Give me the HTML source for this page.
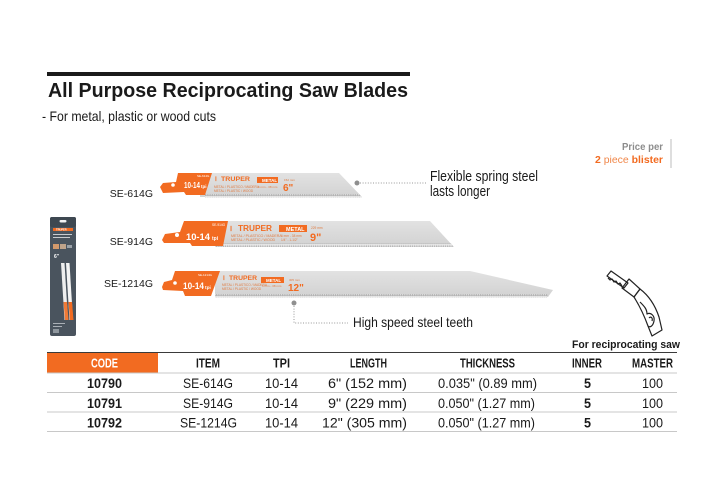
<!DOCTYPE html>
<html><head><meta charset="utf-8"><style>
html,body{margin:0;padding:0;background:#fff;}
svg{display:block;}
text{font-family:"Liberation Sans",Arial,sans-serif;}
</style></head><body>
<svg width="720" height="504" viewBox="0 0 720 504" xmlns="http://www.w3.org/2000/svg">
<defs>
<pattern id="teeth" width="2.2" height="4" patternUnits="userSpaceOnUse">
<rect width="2.2" height="4" fill="#e6e6e6"/>
<path d="M0,4 L1.1,0.5 L2.2,4 Z" fill="#b4b4b4"/>
</pattern>
<linearGradient id="bl" x1="0" y1="0" x2="0" y2="1">
<stop offset="0" stop-color="#e2e2e2"/><stop offset="1" stop-color="#d2d2d2"/>
</linearGradient>
</defs>
<rect width="720" height="504" fill="#fff"/>

<!-- header -->
<rect x="47" y="72" width="363" height="4" fill="#1a1a1a"/>
<text x="48" y="97" font-size="20" font-weight="bold" fill="#1a1a1a" textLength="360" lengthAdjust="spacingAndGlyphs">All Purpose Reciprocating Saw Blades</text>
<text x="42" y="121" font-size="14" fill="#1a1a1a" textLength="174" lengthAdjust="spacingAndGlyphs">- For metal, plastic or wood cuts</text>

<!-- price per -->
<text x="622" y="150" font-size="10.5" font-weight="bold" fill="#8c8c8c" textLength="41" lengthAdjust="spacingAndGlyphs">Price per</text>
<text x="595" y="163" font-size="10.5" font-weight="bold" fill="#f26b21" textLength="68" lengthAdjust="spacingAndGlyphs">2 <tspan font-weight="normal" fill="#f0874a">piece</tspan> blister</text>
<line x1="671" y1="139" x2="671" y2="168" stroke="#bdbdbd" stroke-width="1"/>

<!-- labels -->
<text x="153" y="197" font-size="10.5" fill="#1a1a1a" text-anchor="end">SE-614G</text>
<text x="153" y="245" font-size="10.5" fill="#1a1a1a" text-anchor="end">SE-914G</text>
<text x="153" y="287" font-size="10.5" fill="#1a1a1a" text-anchor="end">SE-1214G</text>

<!-- blade 1 -->
<polygon points="200,173 339,173 362,197 200,197" fill="url(#bl)"/>
<polygon points="205,194 359,194 362,197.5 205,197.5" fill="url(#teeth)"/>
<path d="M160,187 L163,183 L176,182 L178,173 L212,173 L205,195 L186,195 L184,192 L163,193 Z" fill="#f26b21"/>
<circle cx="173" cy="185" r="1.8" fill="#fff"/>
<text x="184" y="188" font-size="8" font-weight="bold" fill="#fff" textLength="16" lengthAdjust="spacingAndGlyphs">10-14</text>
<text x="201" y="188" font-size="4.5" font-weight="bold" fill="#fff">tpi</text>
<text x="197" y="177" font-size="3" fill="#fff">SE-614G</text>
<text x="215" y="181" font-size="6" font-weight="bold" fill="#f26b21">Ⅰ</text>
<text x="221" y="181" font-size="6.5" font-weight="bold" fill="#f26b21" textLength="29" lengthAdjust="spacingAndGlyphs">TRUPER</text>
<rect x="257" y="177" width="21" height="6" fill="#f26b21"/>
<text x="262" y="182" font-size="4.5" font-weight="bold" fill="#fff">METAL</text>
<text x="214" y="188" font-size="3.2" fill="#e07a40">METAL / PLASTICO / MADERA</text>
<text x="214" y="192" font-size="3.2" fill="#e07a40">METAL / PLASTIC / WOOD</text>
<text x="258" y="188" font-size="3" fill="#e07a40">6 mm - 38 mm</text>
<text x="283" y="191" font-size="10" font-weight="bold" fill="#f26b21">6"</text>
<text x="284" y="181" font-size="3" fill="#e07a40">152 mm</text>

<!-- blade 2 -->
<polygon points="210,221 430,221 453,246 210,246" fill="url(#bl)"/>
<polygon points="215,243.5 451,243.5 454,247 215,247" fill="url(#teeth)"/>
<path d="M162,240 L165,234 L180,232 L184,221 L228,221 L223,246 L192,246 L190,243 L164,243 Z" fill="#f26b21"/>
<circle cx="177" cy="235" r="2" fill="#fff"/>
<text x="186" y="240" font-size="9.5" font-weight="bold" fill="#fff" textLength="24" lengthAdjust="spacingAndGlyphs">10-14</text>
<text x="212" y="240" font-size="5" font-weight="bold" fill="#fff">tpi</text>
<text x="212" y="226" font-size="3.2" fill="#fff">SE-914G</text>
<text x="230" y="231" font-size="7" font-weight="bold" fill="#f26b21">Ⅰ</text>
<text x="238" y="231" font-size="8" font-weight="bold" fill="#f26b21" textLength="34" lengthAdjust="spacingAndGlyphs">TRUPER</text>
<rect x="279" y="225" width="28" height="7" fill="#f26b21"/>
<text x="286" y="231" font-size="5.5" font-weight="bold" fill="#fff">METAL</text>
<text x="231" y="237" font-size="3.6" fill="#e07a40">METAL / PLASTICO / MADERA</text>
<text x="231" y="241" font-size="3.6" fill="#e07a40">METAL / PLASTIC / WOOD</text>
<text x="281" y="237" font-size="3.2" fill="#e07a40">6 mm - 38 mm</text>
<text x="281" y="241" font-size="3.2" fill="#e07a40">1/4" - 1-1/2"</text>
<text x="310" y="241" font-size="11" font-weight="bold" fill="#f26b21">9"</text>
<text x="311" y="229" font-size="3.2" fill="#e07a40">229 mm</text>

<!-- blade 3 -->
<polygon points="215,271 470,271 553,290 548,297 215,297" fill="url(#bl)"/>
<polygon points="215,294 548,294 547,297.5 215,297.5" fill="url(#teeth)"/>
<path d="M162,287 L164,282 L172,280 L175,271 L220,271 L211,296 L185,296 L183,291 L163,290 Z" fill="#f26b21"/>
<circle cx="175" cy="283" r="1.8" fill="#fff"/>
<text x="183" y="289" font-size="9" font-weight="bold" fill="#fff" textLength="21" lengthAdjust="spacingAndGlyphs">10-14</text>
<text x="205" y="289" font-size="4.8" font-weight="bold" fill="#fff">tpi</text>
<text x="198" y="276" font-size="3" fill="#fff">SE-1214G</text>
<text x="223" y="280" font-size="6" font-weight="bold" fill="#f26b21">Ⅰ</text>
<text x="229" y="280" font-size="6.5" font-weight="bold" fill="#f26b21" textLength="28" lengthAdjust="spacingAndGlyphs">TRUPER</text>
<rect x="261" y="277" width="23" height="6" fill="#f26b21"/>
<text x="266" y="282" font-size="4.5" font-weight="bold" fill="#fff">METAL</text>
<text x="222" y="286" font-size="3.2" fill="#e07a40">METAL / PLASTICO / MADERA</text>
<text x="222" y="290" font-size="3.2" fill="#e07a40">METAL / PLASTIC / WOOD</text>
<text x="262" y="287" font-size="3" fill="#e07a40">6 mm - 38 mm</text>
<text x="288" y="291" font-size="10" font-weight="bold" fill="#f26b21">12"</text>
<text x="289" y="281" font-size="3" fill="#e07a40">305 mm</text>

<!-- callout 1 -->
<circle cx="357" cy="183" r="2.5" fill="#8f8f8f"/>
<line x1="360" y1="183" x2="426" y2="183" stroke="#999" stroke-width="1" stroke-dasharray="1,1.6"/>
<text x="430" y="181" font-size="14.5" fill="#1a1a1a" textLength="108" lengthAdjust="spacingAndGlyphs">Flexible spring steel</text>
<text x="430" y="196" font-size="14.5" fill="#1a1a1a" textLength="60" lengthAdjust="spacingAndGlyphs">lasts longer</text>

<!-- callout 2 -->
<circle cx="294" cy="303" r="2.5" fill="#8f8f8f"/>
<path d="M294,306 L294,323 L348,323" fill="none" stroke="#999" stroke-width="1" stroke-dasharray="1,1.6"/>
<text x="353" y="327" font-size="14" fill="#1a1a1a" textLength="120" lengthAdjust="spacingAndGlyphs">High speed steel teeth</text>

<!-- blister package -->
<rect x="50" y="217" width="26" height="119" rx="2" fill="#4a545e"/>
<rect x="50" y="217" width="26" height="10" rx="2" fill="#3e4851"/>
<rect x="59.5" y="220" width="7" height="2.5" rx="1.2" fill="#f4f4f4"/>
<rect x="53" y="228" width="20" height="3" fill="#f26b21"/>
<text x="56" y="230.6" font-size="2.6" font-weight="bold" fill="#fff">TRUPER</text>
<rect x="53" y="234" width="19" height="1" fill="#c9ccd0"/>
<rect x="53" y="237" width="17" height="1" fill="#c9ccd0"/>
<rect x="53" y="244" width="6" height="5" fill="#d39a6c"/>
<rect x="60" y="244" width="6" height="5" fill="#bfa38a"/>
<rect x="67" y="245" width="5" height="3" fill="#9aa1a8"/>
<text x="54" y="258" font-size="5" font-weight="bold" fill="#fff">6"</text>
<polygon points="61,263 64.5,263 68,320 64.5,320" fill="#eeeeee"/>
<polygon points="66,263 69.5,263 73,320 69.5,320" fill="#f4f4f4"/>
<polygon points="63.5,302 67,302 68.5,320 65,320" fill="#f07a36"/>
<polygon points="68.5,302 72,302 73.5,320 70,320" fill="#f26b21"/>
<rect x="53" y="323" width="12" height="1" fill="#aab0b6"/>
<rect x="53" y="326" width="9" height="1" fill="#aab0b6"/>
<rect x="53" y="329" width="6" height="4" fill="#8f979e"/>

<!-- saw icon -->
<g fill="none" stroke="#222" stroke-width="1.2" stroke-linejoin="round">
<path d="M607,276 L611,271 L628,283 L624,288 Z"/>
<path d="M608,278 L610,280 L612,279 L614,282 L616,281 L618,284 L620,283 L622,286"/>
<path d="M622,288 L629,279 L640,289 L634,297 Z"/>
<path d="M634,297 L640,289 C648,295 655,305 659,317 L662,330 L652,336 L648,326 C644,315 639,305 634,297 Z"/>
<path d="M640,302 C644,306 647,309 647,314 C651,312 655,316 654,321 C653,326 650,328 648,326"/>
<path d="M649,318 C651,316 653,318 652,321"/>
</g>
<text x="572" y="348" font-size="11" font-weight="bold" fill="#1a1a1a" textLength="108" lengthAdjust="spacingAndGlyphs">For reciprocating saw</text>

<!-- table -->
<line x1="47" y1="352.5" x2="677" y2="352.5" stroke="#3a3a3a" stroke-width="1"/>
<rect x="47" y="353" width="111" height="19.5" fill="#f26b21"/>
<line x1="47" y1="373" x2="677" y2="373" stroke="#c8c8c8" stroke-width="1"/>
<line x1="47" y1="392.5" x2="677" y2="392.5" stroke="#c8c8c8" stroke-width="1"/>
<line x1="47" y1="412" x2="677" y2="412" stroke="#c8c8c8" stroke-width="1"/>
<line x1="47" y1="431.5" x2="677" y2="431.5" stroke="#c8c8c8" stroke-width="1"/>

<g font-size="12.5" font-weight="bold" fill="#1a1a1a">
<text x="91" y="367.5" fill="#fff" textLength="27" lengthAdjust="spacingAndGlyphs">CODE</text>
<text x="196" y="367.5" textLength="24" lengthAdjust="spacingAndGlyphs">ITEM</text>
<text x="273" y="367.5" textLength="17" lengthAdjust="spacingAndGlyphs">TPI</text>
<text x="350" y="367.5" textLength="37" lengthAdjust="spacingAndGlyphs">LENGTH</text>
<text x="460" y="367.5" textLength="55" lengthAdjust="spacingAndGlyphs">THICKNESS</text>
<text x="572" y="367.5" textLength="30" lengthAdjust="spacingAndGlyphs">INNER</text>
<text x="632" y="367.5" textLength="41" lengthAdjust="spacingAndGlyphs">MASTER</text>
</g>

<g font-size="14" fill="#1a1a1a">
<text x="87" y="388" font-weight="bold" textLength="35" lengthAdjust="spacingAndGlyphs">10790</text>
<text x="183" y="388" textLength="50" lengthAdjust="spacingAndGlyphs">SE-614G</text>
<text x="265" y="388" textLength="33" lengthAdjust="spacingAndGlyphs">10-14</text>
<text x="328" y="388" textLength="79" lengthAdjust="spacingAndGlyphs">6" (152 mm)</text>
<text x="438" y="388" textLength="99" lengthAdjust="spacingAndGlyphs">0.035" (0.89 mm)</text>
<text x="584" y="388" font-weight="bold" textLength="7" lengthAdjust="spacingAndGlyphs">5</text>
<text x="642" y="388" textLength="21" lengthAdjust="spacingAndGlyphs">100</text>

<text x="87" y="408" font-weight="bold" textLength="35" lengthAdjust="spacingAndGlyphs">10791</text>
<text x="183" y="408" textLength="50" lengthAdjust="spacingAndGlyphs">SE-914G</text>
<text x="265" y="408" textLength="33" lengthAdjust="spacingAndGlyphs">10-14</text>
<text x="328" y="408" textLength="79" lengthAdjust="spacingAndGlyphs">9" (229 mm)</text>
<text x="438" y="408" textLength="97" lengthAdjust="spacingAndGlyphs">0.050" (1.27 mm)</text>
<text x="584" y="408" font-weight="bold" textLength="7" lengthAdjust="spacingAndGlyphs">5</text>
<text x="642" y="408" textLength="21" lengthAdjust="spacingAndGlyphs">100</text>

<text x="87" y="427.5" font-weight="bold" textLength="35" lengthAdjust="spacingAndGlyphs">10792</text>
<text x="180" y="427.5" textLength="57" lengthAdjust="spacingAndGlyphs">SE-1214G</text>
<text x="265" y="427.5" textLength="33" lengthAdjust="spacingAndGlyphs">10-14</text>
<text x="322" y="427.5" textLength="85" lengthAdjust="spacingAndGlyphs">12" (305 mm)</text>
<text x="438" y="427.5" textLength="97" lengthAdjust="spacingAndGlyphs">0.050" (1.27 mm)</text>
<text x="584" y="427.5" font-weight="bold" textLength="7" lengthAdjust="spacingAndGlyphs">5</text>
<text x="642" y="427.5" textLength="21" lengthAdjust="spacingAndGlyphs">100</text>
</g>
</svg>
</body></html>
